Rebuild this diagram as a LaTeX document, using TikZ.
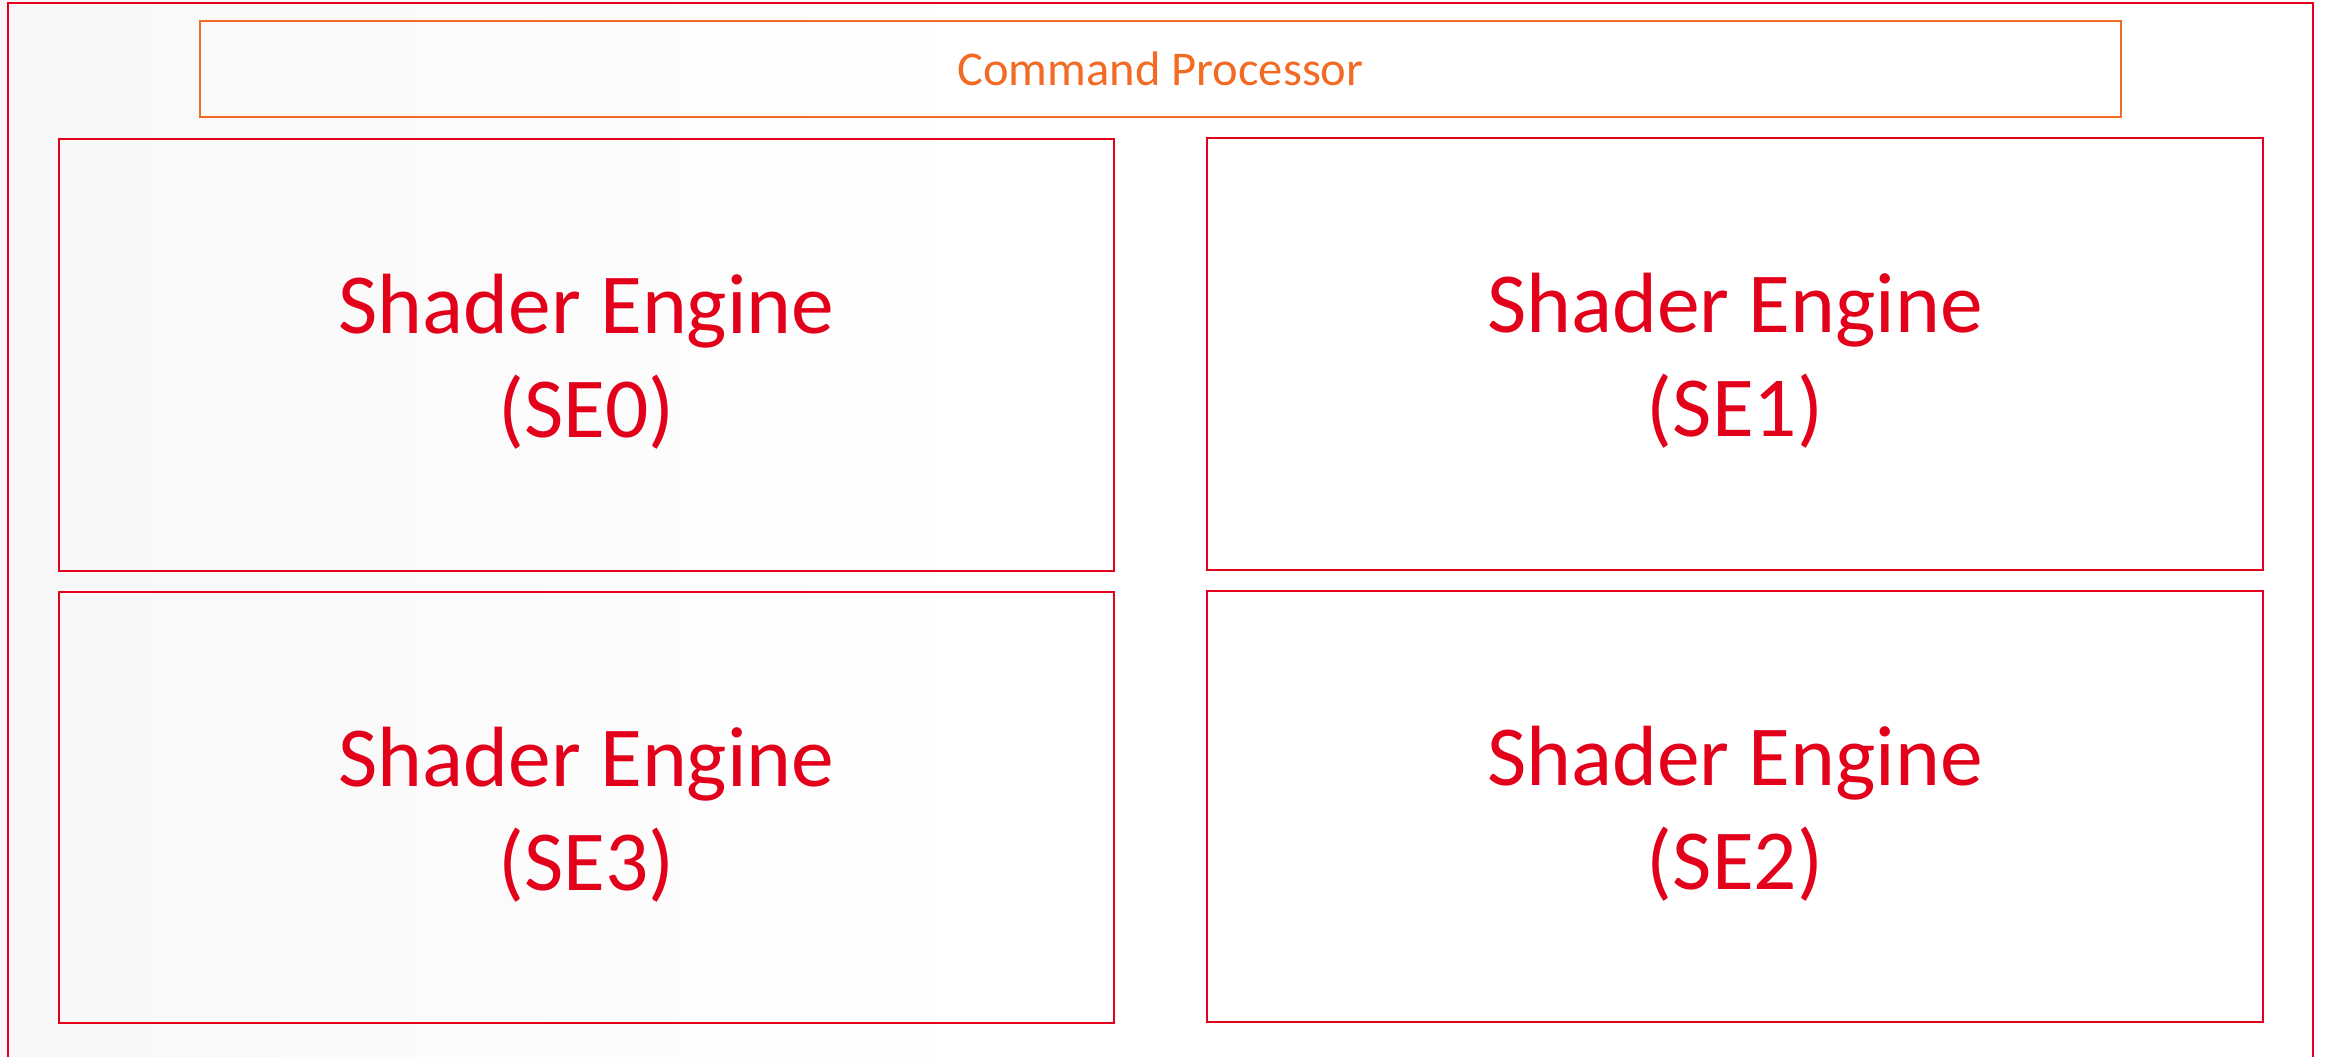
\documentclass[tikz,border=0pt]{standalone}
\usepackage{fontspec}
\setmainfont{Carlito}
\definecolor{sered}{HTML}{E2001A}
\definecolor{cporange}{HTML}{F26B24}
\begin{document}
\begin{tikzpicture}[x=1pt,y=-1pt,
  frame/.style={draw=sered, line width=1.6pt},
  sebox/.style={draw=sered, line width=1.6pt, rectangle, inner sep=0pt},
  cpbox/.style={draw=cporange, line width=1.6pt, rectangle, inner sep=0pt},
  selbl/.style={text=sered, font=\fontsize{85.5}{104}\selectfont, align=center, inner sep=0pt},
  cplbl/.style={text=cporange, font=\fontsize{48.5}{58}\selectfont, inner sep=0pt}]
\useasboundingbox (0,0) rectangle (2326,1057);
\fill[white] (0,0) rectangle (2326,1057);
\shade[left color=black!3, right color=white] (0,0) rectangle (1000,1057);
\draw[frame] (8,3) rectangle (2313,1080);
\node[cpbox, minimum width=1921pt, minimum height=96pt] (cp) at (1160.5,69) {};
\node[cplbl] (cpt) at (cp.center) {Command Processor};
\node[sebox, minimum width=1055pt, minimum height=432pt] (se0) at (586.5,355) {};
\node[sebox, minimum width=1056pt, minimum height=432pt] (se1) at (1735,354) {};
\node[sebox, minimum width=1055pt, minimum height=431pt] (se3) at (586.5,807.5) {};
\node[sebox, minimum width=1056pt, minimum height=431pt] (se2) at (1735,806.5) {};
\node[selbl] (t0) at ([yshift=-7pt]se0.center) {Shader Engine\\(SE0)};
\node[selbl] (t1) at ([yshift=-7pt]se1.center) {Shader Engine\\(SE1)};
\node[selbl] (t3) at ([yshift=-7pt]se3.center) {Shader Engine\\(SE3)};
\node[selbl] (t2) at ([yshift=-7pt]se2.center) {Shader Engine\\(SE2)};
\end{tikzpicture}
\end{document}
